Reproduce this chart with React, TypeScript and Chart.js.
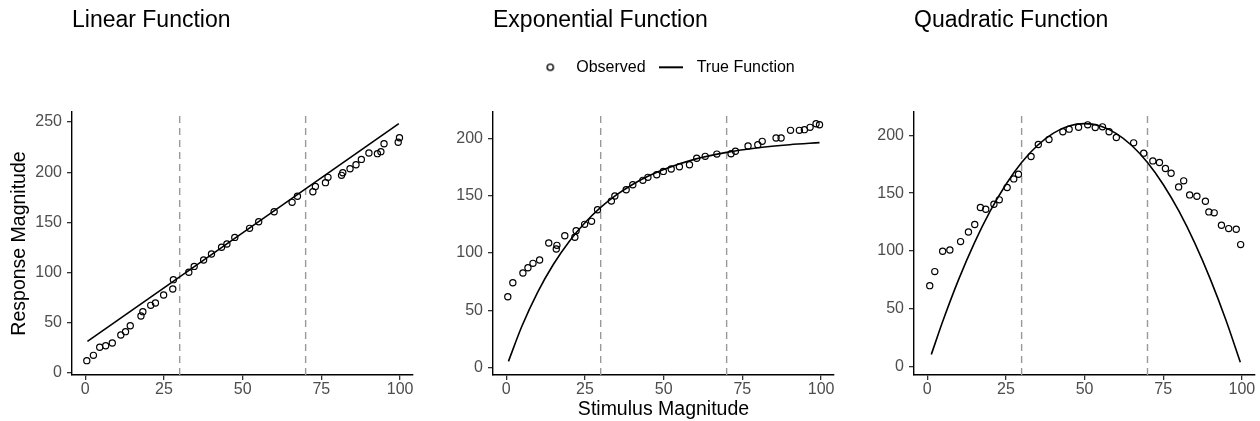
import React, { useEffect, useRef } from "react";
import { Chart, registerables, layouts } from "chart.js";

Chart.register(...registerables);
Chart.defaults.font.family = "'Liberation Sans', Arial, Helvetica, sans-serif";

// ---------- data ----------
const xTickValues = [0, 25, 50, 75, 100];
const cutoffs = [30, 70];
const linearYTicks = [0, 50, 100, 150, 200, 250];
const otherYTicks = [0, 50, 100, 150, 200];
const legendLabels = ["Observed", "True Function"];

const linObsX = [0.5, 2.6, 4.6, 6.5, 8.6, 11.3, 12.8, 14.3, 17.7, 18.3, 20.8, 22.3, 24.9, 27.8, 28.0, 32.9, 34.6, 37.6, 40.1, 43.3, 45.0, 47.5, 52.2, 55.1, 60.0, 65.7, 67.4, 72.3, 73.1, 76.3, 77.1, 81.4, 81.8, 84.1, 86.0, 87.7, 90.1, 92.8, 93.9, 94.9, 99.4, 99.8];
const linObsY = [12.3, 17.6, 25.6, 27.2, 29.9, 37.8, 41.2, 47.1, 56.8, 61.1, 67.4, 69.7, 77.7, 83.7, 93.0, 100.3, 106.2, 112.5, 118.5, 125.2, 128.5, 135.1, 144.1, 150.7, 160.7, 170.0, 176.0, 180.6, 185.9, 189.6, 194.9, 196.9, 199.5, 203.5, 207.5, 212.8, 219.1, 218.5, 220.5, 228.4, 229.8, 234.4];
const linTrueX = [0.7, 99.6];
const linTrueY = [31.5, 248.5];

const expObsX = [0.5, 2.1, 5.3, 6.9, 8.5, 10.6, 13.5, 15.9, 16.1, 18.6, 21.8, 22.2, 24.9, 27.1, 29.0, 33.4, 34.5, 38.1, 40.2, 43.4, 45.0, 47.8, 49.9, 52.4, 55.0, 58.2, 60.5, 63.2, 66.9, 71.4, 72.8, 76.8, 79.9, 81.3, 85.7, 87.3, 90.3, 93.1, 94.7, 96.5, 98.4, 99.5];
const expObsY = [61.9, 74.1, 82.6, 87.2, 91.0, 93.9, 108.7, 103.5, 106.7, 115.1, 113.7, 119.5, 125.0, 127.6, 137.8, 145.3, 149.7, 155.2, 159.6, 163.4, 166.0, 168.3, 171.2, 173.3, 175.3, 177.0, 182.6, 184.3, 186.3, 186.6, 188.7, 193.3, 194.5, 197.4, 200.3, 200.3, 207.0, 207.0, 207.6, 209.6, 212.8, 211.9];
const expTrueX = [0.7, 5, 10, 15, 20, 25, 30, 35, 40, 45, 50, 60, 70, 80, 90, 99.5];
const expTrueY = [5.5, 36.3, 65.9, 90.2, 110.1, 126.4, 139.8, 150.7, 159.6, 166.9, 172.9, 181.9, 187.8, 191.8, 194.5, 196.3];

const quadObsX = [0.8, 2.4, 4.9, 7.2, 10.6, 13.1, 15.1, 16.9, 18.6, 21.2, 22.9, 25.4, 27.5, 29.0, 33.0, 35.3, 38.7, 43.1, 45.1, 48.1, 51.0, 53.4, 55.7, 57.8, 60.1, 65.6, 68.8, 71.7, 73.8, 75.7, 77.5, 79.9, 81.5, 83.4, 85.7, 88.4, 89.5, 91.2, 93.5, 95.8, 98.2, 99.6];
const quadObsY = [70.2, 82.3, 99.9, 101.0, 108.2, 116.5, 122.9, 137.6, 136.1, 140.4, 144.2, 154.8, 162.3, 166.3, 181.6, 191.9, 196.3, 202.9, 205.2, 206.9, 208.9, 206.6, 207.2, 202.9, 198.0, 193.4, 184.5, 177.8, 176.4, 171.2, 167.2, 155.4, 160.6, 148.5, 147.3, 143.0, 133.8, 133.0, 122.3, 119.4, 118.8, 105.6];
const quadTrueX = [1.3, 5, 10, 15, 20, 25, 30, 35, 40, 45, 50, 55, 60, 65, 70, 75, 80, 85, 90, 95, 99.5];
const quadTrueY = [10.8, 39.9, 75.6, 107.1, 134.4, 157.5, 176.4, 191.1, 201.6, 207.9, 210.0, 207.9, 201.6, 191.1, 176.4, 157.5, 134.4, 107.1, 75.6, 39.9, 4.1];

// ---------- layout ----------
const CANVAS_W = 420;
const CANVAS_H = 421;
const X_AXIS_H = 46;
const X_MIN = -4.2;
const X_MAX = 104.1;
const TITLE_PAD_TOP = 6.5;

type PanelCfg = {
  title: string;
  obsX: number[];
  obsY: number[];
  trueX: number[];
  trueY: number[];
  yMin: number;
  yMax: number;
  yTicks: number[];
  left: number;
  yAxisW: number;
  padRight: number;
  yTitle: string;
  xTitle: string;
  legend: boolean;
  titlePadBottom: number;
  legendGap: number;
};

const panels: PanelCfg[] = [
  { title: "Linear Function", obsX: linObsX, obsY: linObsY, trueX: linTrueX, trueY: linTrueY, yMin: -2, yMax: 260, yTicks: linearYTicks, left: 0, yAxisW: 72, padRight: 7, yTitle: "Response Magnitude", xTitle: "", legend: false, titlePadBottom: 77.9, legendGap: 0 },
  { title: "Exponential Function", obsX: expObsX, obsY: expObsY, trueX: expTrueX, trueY: expTrueY, yMin: -6.4, yMax: 223, yTicks: otherYTicks, left: 420, yAxisW: 73, padRight: 6, yTitle: "", xTitle: "Stimulus Magnitude", legend: true, titlePadBottom: 18.2, legendGap: 26.7 },
  { title: "Quadratic Function", obsX: quadObsX, obsY: quadObsY, trueX: quadTrueX, trueY: quadTrueY, yMin: -6.9, yMax: 220, yTicks: otherYTicks, left: 840, yAxisW: 74, padRight: 5, yTitle: "", xTitle: "", legend: false, titlePadBottom: 77.9, legendGap: 0 },
];

const cutoffPlugin = {
  id: "cutoffLines",
  beforeDatasetsDraw(chart: any) {
    const { ctx, chartArea, scales } = chart;
    ctx.save();
    ctx.strokeStyle = "#999999";
    ctx.lineWidth = 1.4;
    ctx.setLineDash([7, 5]);
    cutoffs.forEach((v) => {
      const px = scales.x.getPixelForValue(v);
      ctx.beginPath();
      ctx.moveTo(px, chartArea.bottom);
      ctx.lineTo(px, chartArea.top);
      ctx.stroke();
    });
    ctx.restore();
  },
};

// empty layout box that keeps a gap between the legend and the plot area
function makeGapPlugin(size: number) {
  return {
    id: "legendGap",
    beforeInit(chart: any) {
      if (!size) return;
      const box: any = {
        position: "top",
        weight: 500,
        fullSize: false,
        options: {},
        top: 0,
        left: 0,
        right: 0,
        bottom: 0,
        width: 0,
        height: 0,
        isHorizontal: () => true,
        update(maxWidth: number) {
          box.width = maxWidth;
          box.height = size;
        },
        draw() {},
      };
      layouts.addBox(chart, box);
    },
  };
}

function circleMarker() {
  const c = document.createElement("canvas");
  c.width = 10;
  c.height = 10;
  const g = c.getContext("2d")!;
  g.strokeStyle = "#000";
  g.lineWidth = 1.4;
  g.beginPath();
  g.arc(5, 5, 3.1, 0, Math.PI * 2);
  g.stroke();
  return c;
}

function lineMarker() {
  const c = document.createElement("canvas");
  c.width = 24;
  c.height = 4;
  const g = c.getContext("2d")!;
  g.strokeStyle = "#000";
  g.lineWidth = 2;
  g.beginPath();
  g.moveTo(0, 2);
  g.lineTo(24, 2);
  g.stroke();
  return c;
}

function Panel({ cfg }: { cfg: PanelCfg }) {
  const ref = useRef<HTMLCanvasElement | null>(null);
  useEffect(() => {
    if (!ref.current) return;
    const markers = [circleMarker(), lineMarker()];
    const axisCommon = {
      grid: { display: true, drawOnChartArea: false, drawTicks: true, tickLength: 5, color: "#333333", lineWidth: 1.3 },
      border: { display: true, color: "#000000", width: 1.4 },
    };
    const chart = new Chart(ref.current, {
      type: "scatter",
      data: {
        datasets: [
          {
            label: legendLabels[0],
            data: cfg.obsX.map((x, i) => ({ x, y: cfg.obsY[i] })),
            pointRadius: 3.1,
            pointBorderWidth: 1.2,
            pointBorderColor: "#000000",
            pointBackgroundColor: "rgba(0,0,0,0)",
            showLine: false,
            order: 2,
          },
          {
            label: legendLabels[1],
            data: cfg.trueX.map((x, i) => ({ x, y: cfg.trueY[i] })),
            showLine: true,
            borderColor: "#000000",
            borderWidth: 1.6,
            pointRadius: 0,
            cubicInterpolationMode: "monotone",
            fill: false,
            order: 1,
          },
        ],
      } as any,
      options: {
        responsive: false,
        animation: false,
        events: [],
        layout: { padding: { left: 0, right: cfg.padRight, top: 0, bottom: 0 } },
        scales: {
          x: {
            type: "linear",
            min: X_MIN,
            max: X_MAX,
            ...axisCommon,
            afterBuildTicks: (scale: any) => {
              scale.ticks = xTickValues.map((v) => ({ value: v }));
            },
            afterFit: (scale: any) => {
              scale.height = X_AXIS_H;
            },
            ticks: { color: "#4D4D4D", font: { size: 16 }, padding: 0, maxRotation: 0, autoSkip: false },
            title: {
              display: cfg.xTitle !== "",
              text: cfg.xTitle,
              color: "#000000",
              font: { size: 19.5 },
              padding: { top: 0, bottom: 0 },
            },
          },
          y: {
            type: "linear",
            min: cfg.yMin,
            max: cfg.yMax,
            ...axisCommon,
            afterBuildTicks: (scale: any) => {
              scale.ticks = cfg.yTicks.map((v) => ({ value: v }));
            },
            afterFit: (scale: any) => {
              scale.width = cfg.yAxisW;
            },
            ticks: { color: "#4D4D4D", font: { size: 16 }, padding: 5, autoSkip: false },
            title: {
              display: cfg.yTitle !== "",
              text: cfg.yTitle,
              color: "#000000",
              font: { size: 19.5 },
              padding: { top: 8.2, bottom: 0 },
            },
          },
        },
        plugins: {
          tooltip: { enabled: false },
          title: {
            display: true,
            text: cfg.title,
            align: "start",
            fullSize: false,
            color: "#000000",
            font: { size: 23, weight: "normal" },
            padding: { top: TITLE_PAD_TOP, bottom: cfg.titlePadBottom },
          },
          legend: {
            display: cfg.legend,
            position: "top",
            align: "center",
            fullSize: false,
            labels: {
              usePointStyle: true,
              pointStyleWidth: 36,
              padding: 7,
              color: "#000000",
              font: { size: 16 },
              generateLabels: () =>
                legendLabels.map((text, i) => ({
                  text,
                  pointStyle: markers[i],
                  fillStyle: "rgba(0,0,0,0)",
                  strokeStyle: "#000000",
                  lineWidth: 0,
                  hidden: false,
                  datasetIndex: i,
                  fontColor: "#000000",
                })),
            },
          },
        },
      } as any,
      plugins: [cutoffPlugin, makeGapPlugin(cfg.legendGap)],
    });
    return () => chart.destroy();
  }, [cfg]);
  return (
    <canvas
      ref={ref}
      width={CANVAS_W}
      height={CANVAS_H}
      style={{ position: "absolute", left: cfg.left, top: 0, width: CANVAS_W, height: CANVAS_H }}
    />
  );
}

export default function App() {
  return (
    <div style={{ position: "absolute", left: 0, top: 0, width: 1260, height: 421, background: "#ffffff", overflow: "hidden" }}>
      {panels.map((p) => (
        <Panel key={p.title} cfg={p} />
      ))}
    </div>
  );
}
